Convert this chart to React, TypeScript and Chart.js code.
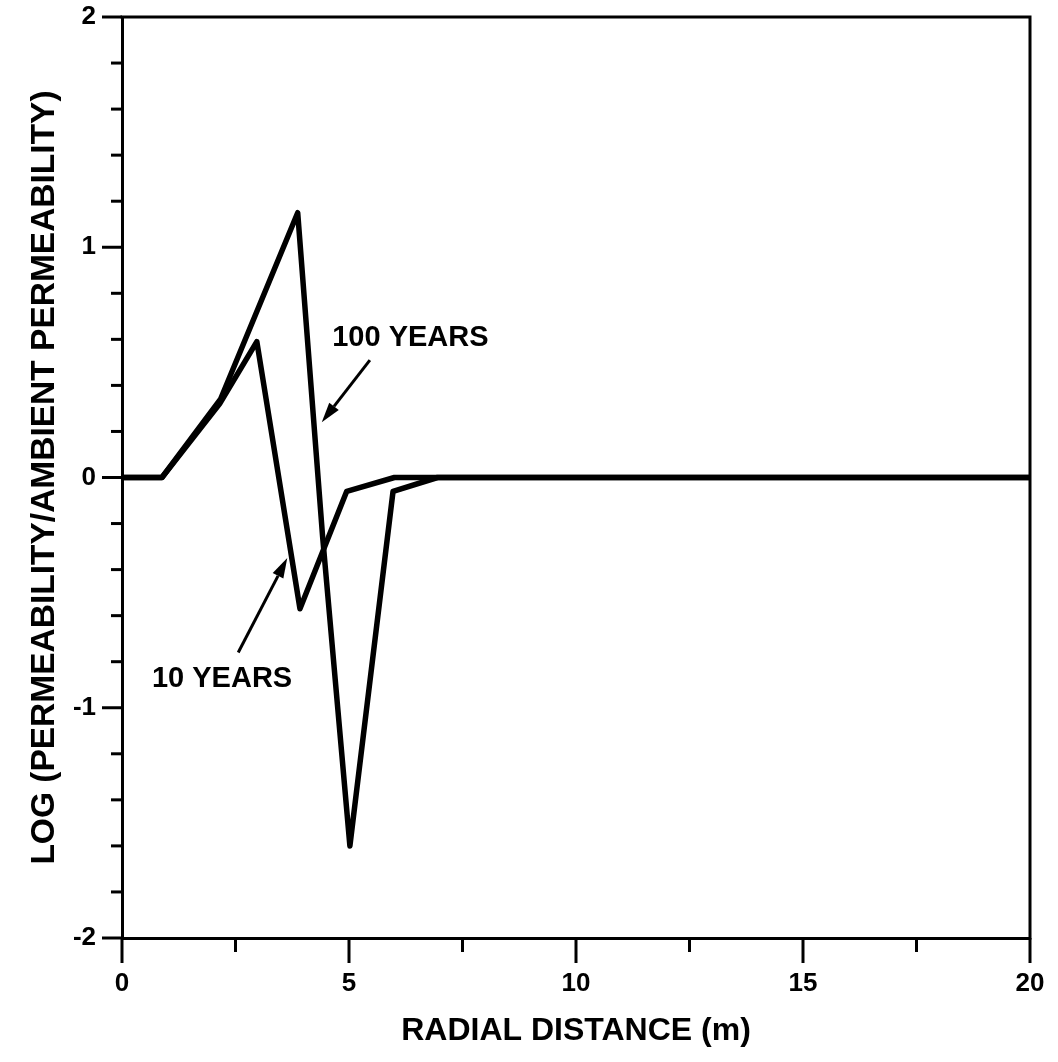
import React, { useEffect, useRef } from "react";
import { Chart, registerables } from "chart.js";

Chart.register(...registerables);

// ---- Data ----
const distance10Years = [0, 0.88, 2.15, 2.97, 3.92, 4.95, 6.0, 20];
const logPerm10Years = [0, 0, 0.32, 0.59, -0.57, -0.06, 0, 0];

const distance100Years = [0, 0.88, 2.17, 3.87, 4.42, 5.02, 5.97, 6.95, 20];
const logPerm100Years = [0, 0, 0.34, 1.15, -0.26, -1.6, -0.06, 0, 0];

const xMajorTicks = [0, 5, 10, 15, 20];
const yMajorTicks = [-2, -1, 0, 1, 2];

const xTitle = "RADIAL DISTANCE (m)";
const yTitle = "LOG (PERMEABILITY/AMBIENT PERMEABILITY)";

// annotation labels [x, y] in data units, arrows [tailX, tailY, headX, headY]
const label100 = "100 YEARS";
const label100Pos = [4.63, 0.57];
const arrow100 = [5.46, 0.51, 4.4, 0.24];
const label10 = "10 YEARS";
const label10Pos = [0.66, -0.91];
const arrow10 = [2.56, -0.76, 3.64, -0.35];

const FONT = '"Liberation Sans", Arial, Helvetica, sans-serif';

const toPoints = (xs: number[], ys: number[]) => xs.map((x, i) => ({ x, y: ys[i] }));

const decorPlugin = {
  id: "decor",
  afterDatasetsDraw(chart: any) {
    const { ctx, chartArea: a, scales } = chart;
    const xs = scales.x;
    const ys = scales.y;
    ctx.save();
    ctx.strokeStyle = "#000";
    ctx.fillStyle = "#000";
    ctx.lineWidth = 3;
    ctx.lineCap = "butt";
    // frame top & right
    ctx.beginPath();
    ctx.moveTo(a.left - 1.5, a.top);
    ctx.lineTo(a.right, a.top);
    ctx.lineTo(a.right, a.bottom + 1.5);
    ctx.stroke();
    // x tick marks
    for (let i = 0; i <= 8; i++) {
      const v = i * 2.5;
      const px = xs.getPixelForValue(v);
      const len = i % 2 === 0 ? 25 : 14;
      ctx.beginPath();
      ctx.moveTo(px, a.bottom);
      ctx.lineTo(px, a.bottom + len);
      ctx.stroke();
    }
    // y tick marks
    for (let i = 0; i <= 20; i++) {
      const v = -2 + i * 0.2;
      const py = ys.getPixelForValue(v);
      const len = i % 5 === 0 ? 20 : 11;
      ctx.beginPath();
      ctx.moveTo(a.left, py);
      ctx.lineTo(a.left - len, py);
      ctx.stroke();
    }
    // annotations
    ctx.font = `bold 29px ${FONT}`;
    ctx.textBaseline = "alphabetic";
    ctx.textAlign = "left";
    ctx.fillText(label100, xs.getPixelForValue(label100Pos[0]), ys.getPixelForValue(label100Pos[1]));
    ctx.fillText(label10, xs.getPixelForValue(label10Pos[0]), ys.getPixelForValue(label10Pos[1]));
    const drawArrow = (arr: number[]) => {
      const x1 = xs.getPixelForValue(arr[0]);
      const y1 = ys.getPixelForValue(arr[1]);
      const x2 = xs.getPixelForValue(arr[2]);
      const y2 = ys.getPixelForValue(arr[3]);
      const ang = Math.atan2(y2 - y1, x2 - x1);
      const hl = 20;
      const hw = 6;
      const bx = x2 - hl * Math.cos(ang);
      const by = y2 - hl * Math.sin(ang);
      ctx.lineWidth = 3;
      ctx.beginPath();
      ctx.moveTo(x1, y1);
      ctx.lineTo(bx, by);
      ctx.stroke();
      ctx.beginPath();
      ctx.moveTo(x2, y2);
      ctx.lineTo(bx + hw * Math.sin(ang), by - hw * Math.cos(ang));
      ctx.lineTo(bx - hw * Math.sin(ang), by + hw * Math.cos(ang));
      ctx.closePath();
      ctx.fill();
    };
    drawArrow(arrow100);
    drawArrow(arrow10);
    ctx.restore();
  },
};

export default function App() {
  const ref = useRef<HTMLCanvasElement | null>(null);
  useEffect(() => {
    if (!ref.current) return;
    const chart = new Chart(ref.current, {
      type: "line",
      data: {
        datasets: [
          {
            label: "10 YEARS",
            data: toPoints(distance10Years, logPerm10Years),
            borderColor: "#000",
            borderWidth: 5.5,
            pointRadius: 0,
            tension: 0,
            borderJoinStyle: "round",
            fill: false,
          },
          {
            label: "100 YEARS",
            data: toPoints(distance100Years, logPerm100Years),
            borderColor: "#000",
            borderWidth: 5.5,
            pointRadius: 0,
            tension: 0,
            borderJoinStyle: "round",
            fill: false,
          },
        ],
      },
      options: {
        animation: false,
        responsive: false,
        devicePixelRatio: 1,
        layout: { padding: { top: 17, right: 28, left: 0, bottom: 0 } },
        plugins: { legend: { display: false }, tooltip: { enabled: false } },
        scales: {
          x: {
            type: "linear",
            min: 0,
            max: 20,
            afterFit: (s: any) => {
              s.height = 124;
              s.paddingLeft = 0;
              s.paddingRight = 0;
            },
            afterBuildTicks: (s: any) => {
              s.ticks = xMajorTicks.map((v) => ({ value: v }));
            },
            ticks: {
              callback: (v: any) => String(v),
              font: { family: FONT, weight: "bold", size: 26 },
              color: "#000",
              padding: 30,
              maxRotation: 0,
              autoSkip: false,
            },
            grid: { display: true, drawOnChartArea: false, drawTicks: false },
            border: { display: true, color: "#000", width: 3 },
            title: {
              display: true,
              text: xTitle,
              font: { family: FONT, weight: "bold", size: 32 },
              color: "#000",
              padding: { top: 0, bottom: 12 },
            },
          },
          y: {
            type: "linear",
            min: -2,
            max: 2,
            afterFit: (s: any) => {
              s.width = 122;
              s.paddingTop = 0;
              s.paddingBottom = 0;
            },
            afterBuildTicks: (s: any) => {
              s.ticks = yMajorTicks.map((v) => ({ value: v }));
            },
            ticks: {
              callback: (v: any) => String(v),
              font: { family: FONT, weight: "bold", size: 26 },
              color: "#000",
              padding: 26,
              autoSkip: false,
            },
            grid: { display: true, drawOnChartArea: false, drawTicks: false },
            border: { display: true, color: "#000", width: 3 },
            title: {
              display: true,
              text: yTitle,
              font: { family: FONT, weight: "bold", size: 33.5 },
              color: "#000",
              padding: { top: 25, bottom: 0 },
            },
          },
        },
      },
      plugins: [decorPlugin],
    } as any);
    return () => chart.destroy();
  }, []);
  return (
    <div style={{ position: "fixed", left: 0, top: 0, width: 1058, height: 1062, background: "#fff" }}>
      <canvas ref={ref} width={1058} height={1062} style={{ width: 1058, height: 1062, display: "block" }} />
    </div>
  );
}
